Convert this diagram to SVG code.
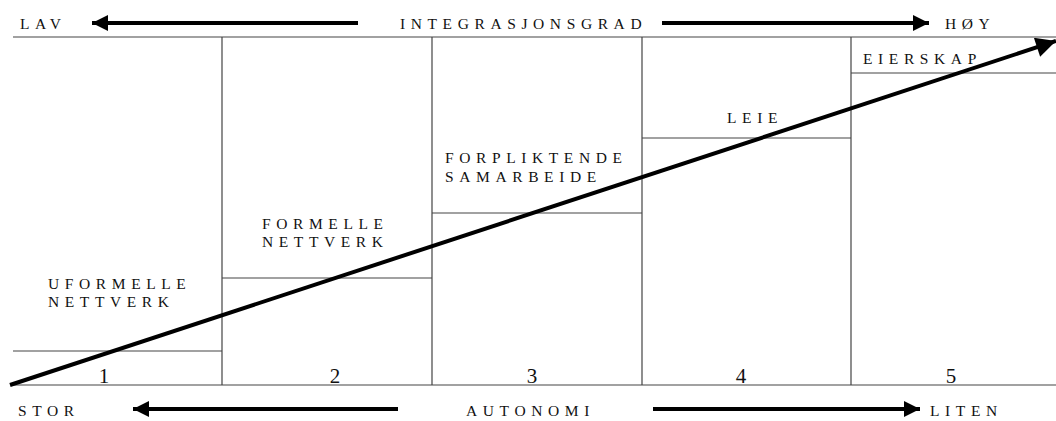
<svg xmlns="http://www.w3.org/2000/svg" width="1056" height="421" viewBox="0 0 1056 421">
<defs>
<style>
.grid{stroke:#444;stroke-width:1.2;fill:none}
.arr{stroke:#000;stroke-width:4;fill:none}
.lbl{font-family:"Liberation Serif","Times New Roman",serif;font-size:15.5px;letter-spacing:5.6px;fill:#111}
.num{font-family:"Liberation Serif","Times New Roman",serif;font-size:21px;fill:#111;text-anchor:middle}
</style>
<marker id="ah" viewBox="0 0 10 10" refX="10" refY="5" markerWidth="5.5" markerHeight="4" markerUnits="strokeWidth" orient="auto">
<path d="M0,0 L10,5 L0,10 Z" fill="#000"/>
</marker>
<marker id="ah2" viewBox="0 0 10 10" refX="10" refY="5" markerWidth="8" markerHeight="5" markerUnits="strokeWidth" orient="auto">
<path d="M0,0 L10,5 L0,10 Z" fill="#000"/>
</marker>
</defs>
<rect width="1056" height="421" fill="#fff"/>
<g id="grid">
<line class="grid" x1="13" y1="37" x2="1056" y2="37"/>
<line class="grid" x1="13" y1="385" x2="1056" y2="385"/>
<line class="grid" x1="222" y1="37" x2="222" y2="385"/>
<line class="grid" x1="432" y1="37" x2="432" y2="385"/>
<line class="grid" x1="642" y1="37" x2="642" y2="385"/>
<line class="grid" x1="851" y1="37" x2="851" y2="385"/>
</g>
<g id="col1">
<line class="grid" x1="13" y1="351" x2="222" y2="351"/>
<text class="lbl" x="48" y="289">UFORMELLE</text>
<text class="lbl" x="48" y="307">NETTVERK</text>
<text class="num" x="104" y="383">1</text>
</g>
<g id="col2">
<line class="grid" x1="222" y1="278" x2="432" y2="278"/>
<text class="lbl" x="262" y="229">FORMELLE</text>
<text class="lbl" x="262" y="247">NETTVERK</text>
<text class="num" x="335" y="383">2</text>
</g>
<g id="col3">
<line class="grid" x1="432" y1="213" x2="642" y2="213"/>
<text class="lbl" x="445" y="163">FORPLIKTENDE</text>
<text class="lbl" x="445" y="182">SAMARBEIDE</text>
<text class="num" x="532" y="383">3</text>
</g>
<g id="col4">
<line class="grid" x1="642" y1="138" x2="851" y2="138"/>
<text class="lbl" x="727" y="123">LEIE</text>
<text class="num" x="741" y="383">4</text>
</g>
<g id="col5">
<line class="grid" x1="851" y1="73" x2="1056" y2="73"/>
<text class="lbl" x="863" y="64">EIERSKAP</text>
<text class="num" x="951" y="383">5</text>
</g>
<g id="axis-labels">
<text class="lbl" x="20" y="29">LAV</text>
<text class="lbl" x="400" y="29">INTEGRASJONSGRAD</text>
<text class="lbl" x="945" y="29">HØY</text>
<text class="lbl" x="18" y="416">STOR</text>
<text class="lbl" x="466" y="416">AUTONOMI</text>
<text class="lbl" x="930" y="416">LITEN</text>
</g>
<g id="connectors">
<line class="arr" x1="358" y1="23" x2="92" y2="23" marker-end="url(#ah)"/>
<line class="arr" x1="662" y1="23" x2="929" y2="23" marker-end="url(#ah)"/>
<line class="arr" x1="398" y1="409" x2="133" y2="409" marker-end="url(#ah)"/>
<line class="arr" x1="653" y1="409" x2="920" y2="409" marker-end="url(#ah)"/>
<line class="arr" x1="10" y1="385" x2="1056" y2="41" stroke-width="3.5" marker-end="url(#ah2)"/>
</g>
</svg>
